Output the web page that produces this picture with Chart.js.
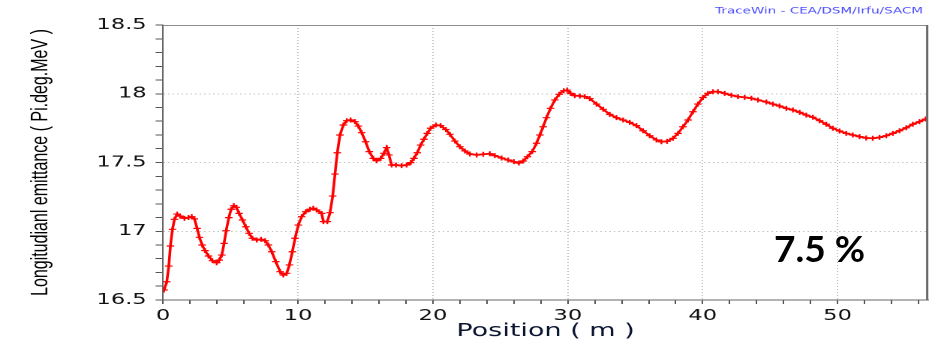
<!DOCTYPE html>
<html>
<head>
<meta charset="utf-8">
<title>Longitudinal emittance</title>
<script src="https://cdn.jsdelivr.net/npm/chart.js@4.4.1/dist/chart.umd.min.js"></script>
<style>
    html, body { margin: 0; padding: 0; background: #fff; }
    body { width: 932px; height: 347px; position: relative; overflow: hidden; }
    /* the original plot is stretched horizontally, so we draw narrow and scale */
    #wrap { position: absolute; left: 0; top: 0; width: 621px; height: 347px; transform: scaleX(1.5008); transform-origin: 0 0; }
    #note { position: absolute; left: 774px; top: 229px; font: bold 37px Lato, sans-serif; line-height: 37px; color: #000; }
</style>
</head>
<body>
<div id="wrap"><canvas id="emitChart" width="621" height="347"></canvas></div>
<div id="note">7.5 %</div>
<script>
// Position (m) et emittance longitudinale (Pi.deg.MeV)
const positions = [
    0.07, 0.27, 0.42, 0.54, 0.69, 0.84, 1.04, 1.26, 1.58, 1.88, 2.12, 2.32, 2.52, 2.69, 2.89,
    3.11, 3.36, 3.65, 3.97, 4.15, 4.35, 4.52, 4.67, 4.87, 5.04, 5.24, 5.43, 5.63, 5.88, 6.13,
    6.37, 6.62, 6.94, 7.26, 7.56, 7.8, 8.05, 8.35, 8.67, 8.91, 9.16, 9.36, 9.58, 9.78, 10.02,
    10.27, 10.57, 10.89, 11.13, 11.38, 11.75, 11.88, 12.17, 12.37, 12.57, 12.74, 12.91, 13.11, 13.36, 13.61,
    13.9, 14.22, 14.47, 14.72, 15.01, 15.28, 15.58, 15.83, 16.13, 16.37, 16.57, 16.74, 16.94, 17.26, 17.68,
    18.05, 18.35, 18.59, 18.84, 19.09, 19.33, 19.58, 19.83, 20.22, 20.57, 20.96, 21.26, 21.63, 22.0, 22.37,
    22.74, 23.24, 23.73, 24.22, 24.59, 25.09, 25.58, 26.0, 26.37, 26.69, 27.01, 27.36, 27.68, 27.93, 28.17,
    28.42, 28.72, 29.04, 29.36, 29.7, 29.95, 30.2, 30.52, 30.89, 31.26, 31.63, 32.13, 32.62, 33.11, 33.61,
    34.1, 34.59, 35.09, 35.58, 36.07, 36.57, 36.94, 37.36, 37.8, 38.17, 38.54, 38.91, 39.28, 39.65, 40.02,
    40.39, 40.76, 41.13, 41.63, 42.13, 42.62, 43.11, 43.61, 44.1, 44.72, 45.21, 45.7, 46.2, 46.69, 47.19,
    47.68, 48.17, 48.67, 49.16, 49.65, 50.15, 50.64, 51.13, 51.63, 52.12, 52.61, 53.11, 53.61, 54.1, 54.59,
    55.09, 55.58, 56.07, 56.52
];
const emittance = [
    16.573, 16.633, 16.747, 16.893, 17.014, 17.087, 17.125, 17.11, 17.094, 17.10, 17.106, 17.09, 17.021, 16.956, 16.90,
    16.859, 16.82, 16.786, 16.771, 16.79, 16.827, 16.912, 17.004, 17.099, 17.16, 17.186, 17.174, 17.13, 17.082, 17.033,
    16.985, 16.949, 16.936, 16.941, 16.931, 16.90, 16.851, 16.779, 16.706, 16.682, 16.694, 16.755, 16.851, 16.949, 17.045,
    17.106, 17.142, 17.16, 17.167, 17.155, 17.13, 17.07, 17.07, 17.135, 17.256, 17.416, 17.571, 17.70, 17.773, 17.804,
    17.809, 17.797, 17.765, 17.717, 17.651, 17.579, 17.53, 17.513, 17.53, 17.567, 17.608, 17.555, 17.482, 17.482, 17.477,
    17.482, 17.499, 17.53, 17.571, 17.627, 17.669, 17.712, 17.749, 17.773, 17.768, 17.74, 17.705, 17.656, 17.615, 17.584,
    17.562, 17.555, 17.56, 17.564, 17.55, 17.533, 17.518, 17.506, 17.496, 17.511, 17.542, 17.579, 17.64, 17.70, 17.76,
    17.826, 17.894, 17.955, 17.996, 18.022, 18.027, 18.003, 17.986, 17.984, 17.979, 17.965, 17.925, 17.887, 17.85, 17.826,
    17.809, 17.792, 17.768, 17.731, 17.695, 17.664, 17.651, 17.654, 17.676, 17.712, 17.76, 17.809, 17.869, 17.925, 17.973,
    18.003, 18.015, 18.015, 18.003, 17.989, 17.979, 17.974, 17.967, 17.955, 17.94, 17.925, 17.911, 17.894, 17.882, 17.865,
    17.845, 17.829, 17.804, 17.778, 17.749, 17.729, 17.712, 17.70, 17.688, 17.678, 17.676, 17.683, 17.695, 17.712, 17.731,
    17.753, 17.778, 17.797, 17.816
];
const xMajorTicks = [0, 10, 20, 30, 40, 50];
const yTickLabels = ['16.5', '17', '17.5', '18', '18.5'];
const creditText = 'TraceWin - CEA/DSM/Irfu/SACM';

// cadre gris (haut et droite) + mention TraceWin en haut à droite
const framePlugin = {
    id: 'frame',
    afterDatasetsDraw(chart) {
        const a = chart.chartArea;
        const ctx = chart.ctx;
        ctx.save();
        ctx.strokeStyle = '#8c8c8c';
        ctx.lineWidth = 1;
        ctx.beginPath();
        ctx.moveTo(a.left, a.top + 0.5);
        ctx.lineTo(a.right, a.top + 0.5);
        ctx.stroke();
        ctx.strokeStyle = '#6a6a6a';
        ctx.lineWidth = 1.5;
        ctx.beginPath();
        ctx.moveTo(a.right - 0.5, a.top);
        ctx.lineTo(a.right - 0.5, a.bottom);
        ctx.stroke();

        ctx.fillStyle = '#4b4bff';
        ctx.font = '9px "DejaVu Sans"';
        ctx.textAlign = 'right';
        ctx.textBaseline = 'middle';
        ctx.fillText(creditText, a.right - 3.3, 11);
        ctx.restore();
    }
};

function isMajorY(v) {
    return yTickLabels.indexOf(String(+v.toFixed(1))) !== -1;
}

const ctx = document.getElementById('emitChart').getContext('2d');
new Chart(ctx, {
    type: 'line',
    data: {
        datasets: [{
            label: 'Longitudinal emittance',
            data: positions.map((p, i) => ({ x: p, y: emittance[i] })),
            borderColor: '#ff0000',
            backgroundColor: '#ff0000',
            borderWidth: 1.8,
            pointStyle: 'cross',
            pointRadius: 2.5,
            pointBorderWidth: 1.2,
            pointBorderColor: '#ff0000',
            tension: 0,
            fill: false
        }]
    },
    options: {
        responsive: false,
        animation: false,
        devicePixelRatio: 2,
        layout: { autoPadding: false, padding: { left: 0, right: 2.7, top: 25, bottom: 0 } },
        plugins: {
            legend: { display: false },
            tooltip: { enabled: false },
            title: { display: false }
        },
        scales: {
            x: {
                type: 'linear',
                min: 0,
                max: 56.7,
                afterFit: s => { s.height = 47; s.paddingLeft = 0; s.paddingRight = 0; },
                ticks: {
                    stepSize: 2,
                    includeBounds: false,
                    autoSkip: false,
                    maxRotation: 0,
                    padding: 3,
                    color: '#111',
                    font: { family: 'DejaVu Sans', size: 15 },
                    callback: v => xMajorTicks.indexOf(v) !== -1 ? String(v) : ''
                },
                grid: {
                    color: c => (c.tick && c.tick.value % 10 === 0 && c.tick.value > 0) ? '#c4c4c4' : 'rgba(0,0,0,0)',
                    tickColor: '#555',
                    tickLength: 4,
                    lineWidth: 1
                },
                border: { color: '#666', width: 1, dash: [1, 2] },
                title: {
                    display: true,
                    text: 'Position ( m )',
                    color: '#0b1530',
                    font: { family: 'DejaVu Sans', size: 18 },
                    padding: { top: 0, bottom: 4.7 }
                }
            },
            y: {
                min: 16.5,
                max: 18.5,
                afterFit: s => { s.width = 108.7; },
                ticks: {
                    stepSize: 0.1,
                    autoSkip: false,
                    padding: 6,
                    color: '#111',
                    font: { family: 'DejaVu Sans', size: 15 },
                    callback: v => isMajorY(v) ? String(+v.toFixed(1)) : ''
                },
                grid: {
                    color: c => (c.tick && isMajorY(c.tick.value) && c.tick.value > 16.55 && c.tick.value < 18.45) ? '#c4c4c4' : 'rgba(0,0,0,0)',
                    tickColor: '#555',
                    tickLength: 5,
                    lineWidth: 1
                },
                border: { color: '#666', width: 1, dash: [1, 2] },
                title: {
                    display: true,
                    text: 'Longitudianl emittance ( Pi.deg.MeV )',
                    color: '#000',
                    font: { family: 'Liberation Sans', size: 16 },
                    padding: { top: 17.7, bottom: 0 }
                }
            }
        }
    },
    plugins: [framePlugin]
});
</script>
</body>
</html>
